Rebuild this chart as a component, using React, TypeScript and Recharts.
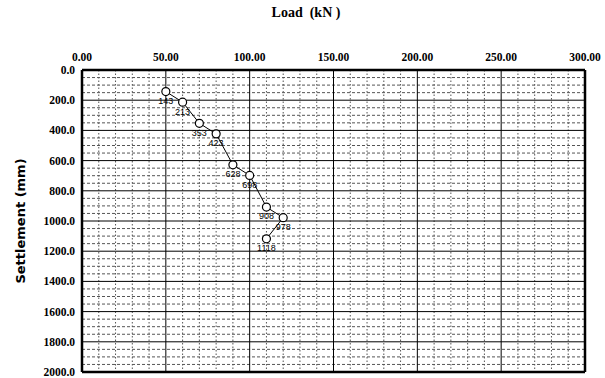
import React from "react";
import {
  ComposedChart, Line, XAxis, YAxis, ReferenceLine, LabelList, Label,
} from "recharts";

// load test readings
const loads = [50, 60, 70, 80, 90, 100, 110, 120, 110];
const settlements = [143, 213, 353, 423, 628, 698, 908, 978, 1118];

const xTicks = [0, 50, 100, 150, 200, 250, 300];
const yTicks = [0, 200, 400, 600, 800, 1000, 1200, 1400, 1600, 1800, 2000];

const data = loads.map((load, i) => ({ load, settlement: settlements[i] }));

// dotted minor grid: every 10 kN and every 50 mm, skipping the major lines
const minorX: number[] = [];
for (let v = 10; v < 300; v += 10) if (v % 50 !== 0) minorX.push(v);
const minorY: number[] = [];
for (let v = 50; v < 2000; v += 50) if (v % 200 !== 0) minorY.push(v);

const serif = "'Liberation Serif', 'Times New Roman', serif";
const tickStyle = { fontSize: 11.5, fontWeight: 700, fontFamily: serif, fill: "#000" };

export default function App() {
  return (
    <div style={{ position: "absolute", left: 0, top: 0, width: 605, height: 378, background: "#fff" }}>
      <div
        style={{
          position: "absolute", left: 0, width: 612, top: 5, textAlign: "center",
          fontFamily: serif, fontWeight: 700, fontSize: 14, color: "#000",
        }}
      >
        Load&nbsp; (kN )
      </div>
      <ComposedChart
        width={605}
        height={378}
        data={data}
        margin={{ top: 0, right: 20, left: 0, bottom: 6 }}
      >
        <XAxis
          dataKey="load"
          type="number"
          orientation="top"
          domain={[0, 300]}
          ticks={xTicks}
          tickFormatter={(v) => v.toFixed(2)}
          tick={tickStyle}
          tickLine={false}
          axisLine={false}
          tickSize={0}
          tickMargin={9}
          height={70}
          interval={0}
        />
        <YAxis
          type="number"
          reversed
          domain={[0, 2000]}
          ticks={yTicks}
          tickFormatter={(v) => v.toFixed(1)}
          tick={tickStyle}
          tickLine={false}
          axisLine={false}
          tickSize={0}
          tickMargin={7}
          width={82}
          interval={0}
        >
          <Label
            value="Settlement (mm)"
            angle={-90}
            position="insideLeft"
            offset={20}
            style={{ fontSize: 13, fontWeight: 700, fontFamily: "'DejaVu Sans', sans-serif", fill: "#000", textAnchor: "middle" }}
          />
        </YAxis>

        {minorX.map((v) => (
          <ReferenceLine key={"mx" + v} x={v} stroke="#555" strokeWidth={1} strokeDasharray="1.5 2" />
        ))}
        {minorY.map((v) => (
          <ReferenceLine key={"my" + v} y={v} stroke="#555" strokeWidth={1} strokeDasharray="3 2" />
        ))}
        {xTicks.map((v) => (
          <ReferenceLine key={"X" + v} x={v} stroke="#000" strokeWidth={v === 0 || v === 300 ? 2.5 : 1} />
        ))}
        {yTicks.map((v) => (
          <ReferenceLine key={"Y" + v} y={v} stroke="#000" strokeWidth={v === 0 || v === 2000 ? 2.5 : 1} />
        ))}

        <Line
          type="linear"
          dataKey="settlement"
          stroke="#000"
          strokeWidth={1}
          dot={{ r: 4, stroke: "#000", strokeWidth: 1.2, fill: "#fff" }}
          isAnimationActive={false}
        >
          <LabelList
            dataKey="settlement"
            position="bottom"
            offset={6}
            style={{ fontSize: 9, fontFamily: "'Liberation Sans', Arial, sans-serif", fill: "#000" }}
          />
        </Line>
      </ComposedChart>
    </div>
  );
}
